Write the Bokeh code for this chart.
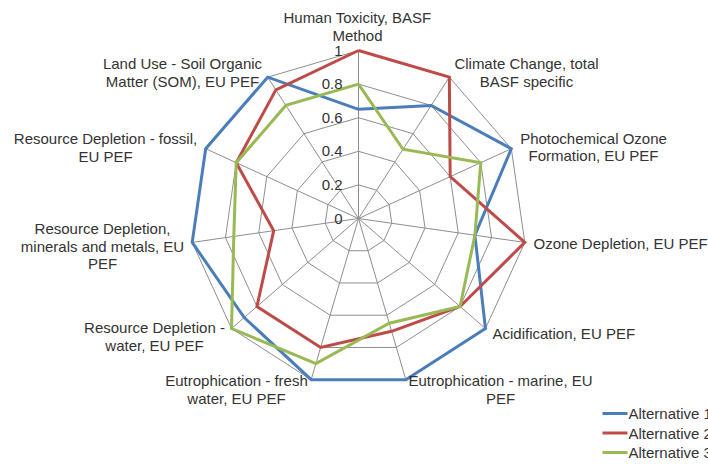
import numpy as np
from bokeh.plotting import figure
from bokeh.models import Range1d
from bokeh.core.properties import value
from bokeh.embed import file_html
from bokeh.resources import INLINE

# ---------------- data ----------------
categories = [
    "Human Toxicity, BASF Method",
    "Climate Change, total BASF specific",
    "Photochemical Ozone Formation, EU PEF",
    "Ozone Depletion, EU PEF",
    "Acidification, EU PEF",
    "Eutrophication - marine, EU PEF",
    "Eutrophication - fresh water, EU PEF",
    "Resource Depletion - water, EU PEF",
    "Resource Depletion, minerals and metals, EU PEF",
    "Resource Depletion - fossil, EU PEF",
    "Land Use - Soil Organic Matter (SOM), EU PEF",
]
alternative_1 = [0.65, 0.80, 1.00, 0.70, 1.00, 1.00, 1.00, 0.90, 1.00, 1.00, 1.00]
alternative_2 = [1.00, 1.00, 0.60, 1.00, 0.80, 0.70, 0.80, 0.80, 0.51, 0.80, 0.91]
alternative_3 = [0.80, 0.49, 0.80, 0.70, 0.80, 0.65, 0.90, 1.00, 0.75, 0.80, 0.80]
series_names = ["Alternative 1", "Alternative 2", "Alternative 3"]
tick_values = [0, 0.2, 0.4, 0.6, 0.8, 1.0]
tick_labels = ["0", "0.2", "0.4", "0.6", "0.8", "1"]

# ---------------- layout / style ----------------
label_lines = [
    ["Human Toxicity, BASF", "Method"],
    ["Climate Change, total", "BASF specific"],
    ["Photochemical Ozone", "Formation, EU PEF"],
    ["Ozone Depletion, EU PEF"],
    ["Acidification, EU PEF"],
    ["Eutrophication - marine, EU", "PEF"],
    ["Eutrophication - fresh", "water, EU PEF"],
    ["Resource Depletion -", "water, EU PEF"],
    ["Resource Depletion,", "minerals and metals, EU", "PEF"],
    ["Resource Depletion - fossil,", "EU PEF"],
    ["Land Use - Soil Organic", "Matter (SOM), EU PEF"],
]
# anchor in picture pixels: (x, first line centre y, align)
label_anchor = [
    (357, 17, "center"),
    (526, 63, "center"),
    (593, 137.5, "center"),
    (533, 243, "left"),
    (492, 333, "left"),
    (500, 380, "center"),
    (236, 380, "center"),
    (154, 327, "center"),
    (102, 228, "center"),
    (105, 138, "center"),
    (182, 63, "center"),
]
line_step = 17.5
colors = ["#4A7EBB", "#BE4B48", "#98B954"]
grid_color = "#8E8E8E"
text_color = "#333333"
FONT = "Liberation Sans"
FS = "15px"

W, H = 708, 468
CX, CY = 358, 218      # centre of the web in pixels
S = 168.0              # radius of value 1 in pixels


def pic(xp, yp):
    """picture pixel -> data coordinates"""
    return (xp - CX) / S, (CY - yp) / S


p = figure(width=W, height=H,
           x_range=Range1d(-CX / S, (W - CX) / S),
           y_range=Range1d(-(H - CY) / S, CY / S),
           output_backend="svg", toolbar_location=None,
           x_axis_type=None, y_axis_type=None,
           min_border=0, outline_line_color=None,
           background_fill_color="white", border_fill_color="white")

n = len(categories)
theta = np.pi / 2 - 2 * np.pi * np.arange(n) / n
ct, st = np.cos(theta), np.sin(theta)

# rings
ring_levels = [0.2, 0.4, 0.6, 0.8, 1.0]
rx = [list(np.append(v * ct, v * ct[0])) for v in ring_levels]
ry = [list(np.append(v * st, v * st[0])) for v in ring_levels]
p.multi_line(rx, ry, line_color=grid_color, line_width=1)
# spokes
p.multi_line([[0, c] for c in ct], [[0, s] for s in st],
             line_color=grid_color, line_width=1)

# series
for vals, col in zip([alternative_1, alternative_2, alternative_3], colors):
    v = np.array(vals)
    xs = np.append(v * ct, v[0] * ct[0])
    ys = np.append(v * st, v[0] * st[0])
    p.line(xs, ys, line_color=col, line_width=3, line_join="miter")

# tick labels
p.text(x=[0] * len(tick_values), y=tick_values, text=tick_labels,
       x_offset=-16, text_align="right", text_baseline="middle",
       text_font=value(FONT), text_font_size=FS, text_color=text_color)

# category labels
for lines, (ax, ay, al) in zip(label_lines, label_anchor):
    xs, ys = [], []
    for i, _ in enumerate(lines):
        dx, dy = pic(ax, ay + i * line_step)
        xs.append(dx)
        ys.append(dy)
    p.text(x=xs, y=ys, text=lines, text_align=al, text_baseline="middle",
           text_font=value(FONT), text_font_size=FS, text_color=text_color)

# legend
leg_rows = [413, 432.5, 452]
for name, col, ry_ in zip(series_names, colors, leg_rows):
    x0, y0 = pic(602, ry_)
    x1, _ = pic(627, ry_)
    p.segment(x0=[x0], y0=[y0], x1=[x1], y1=[y0], line_color=col, line_width=3)
    tx, ty = pic(628, ry_)
    p.text(x=[tx], y=[ty], text=[name], text_align="left", text_baseline="middle",
           text_font=value(FONT), text_font_size=FS, text_color=text_color)

open("out.html", "w").write(file_html(p, INLINE))
